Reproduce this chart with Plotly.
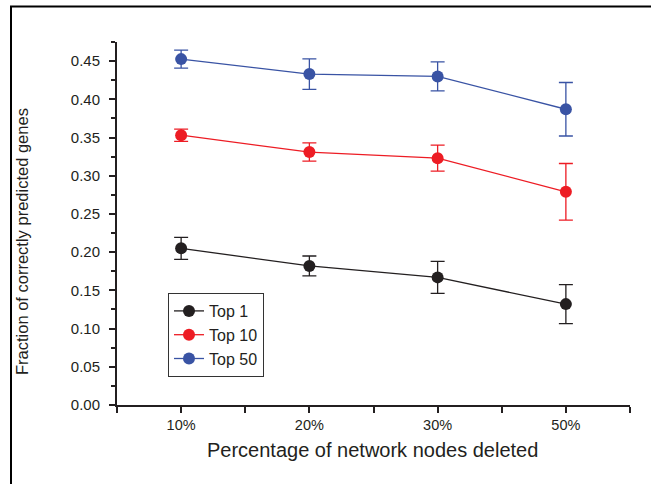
import plotly.graph_objects as go

categories = ["10%", "20%", "30%", "50%"]
top1 = [0.205, 0.182, 0.167, 0.132]
top1_err = [0.0144, 0.013, 0.021, 0.0255]
top10 = [0.353, 0.331, 0.323, 0.279]
top10_err = [0.008, 0.012, 0.017, 0.037]
top50 = [0.4526, 0.433, 0.430, 0.387]
top50_err = [0.0118, 0.020, 0.019, 0.035]

series = [
    ("Top 1", top1, top1_err, "#231f20"),
    ("Top 10", top10, top10_err, "#ed1c24"),
    ("Top 50", top50, top50_err, "#3953a4"),
]

xpos = list(range(len(categories)))
fig = go.Figure()
for name, vals, errs, col in series:
    fig.add_trace(go.Scatter(
        x=xpos, y=vals, name=name, mode="lines+markers",
        line=dict(color=col, width=1.3),
        marker=dict(color=col, size=12),
        error_y=dict(type="data", array=errs, visible=True, color=col, thickness=1.3, width=7),
    ))

W, H = 651, 484
L, R, T, B = 117, 21, 42, 79
pw, ph = W - L - R, H - T - B

def px(xp):
    return (xp - L) / pw

def py(yp):
    return (H - B - yp) / ph

# outer frame (left and top edges)
fig.add_shape(type="line", xref="paper", yref="paper",
              x0=px(11), x1=px(11), y0=py(490), y1=py(6),
              line=dict(color="black", width=2))
fig.add_shape(type="line", xref="paper", yref="paper",
              x0=px(10), x1=px(660), y0=py(6.5), y1=py(6.5),
              line=dict(color="black", width=2))

fig.add_annotation(text="Fraction of correctly predicted genes", xref="paper", yref="paper",
                   x=px(22), y=py(242), textangle=-90, showarrow=False,
                   xanchor="center", yanchor="middle", font=dict(size=16.5))
fig.add_annotation(text="Percentage of network nodes deleted", xref="paper", yref="paper",
                   x=px(372), y=py(450), showarrow=False,
                   xanchor="center", yanchor="middle", font=dict(size=20))

fig.update_layout(
    width=W, height=H,
    margin=dict(l=L, r=R, t=T, b=B, autoexpand=False),
    paper_bgcolor="white", plot_bgcolor="white",
    font=dict(family="Liberation Sans, Arial, sans-serif", color="#231f20"),
    showlegend=True,
    legend=dict(x=px(168), y=py(293), xanchor="left", yanchor="top",
                bordercolor="#333333", borderwidth=1, bgcolor="white",
                font=dict(size=16), tracegroupgap=0),
    xaxis=dict(
        range=[-0.5, 3.5], tickvals=xpos, ticktext=categories,
        showline=True, linecolor="#231f20", linewidth=2,
        ticks="outside", ticklen=6, tickwidth=2, tickcolor="#231f20",
        showgrid=False, zeroline=False, automargin=False,
        tickfont=dict(size=14.5),
        minor=dict(tickvals=[-0.5, 0.5, 1.5, 2.5, 3.5], ticks="outside", ticklen=6, tickwidth=2, tickcolor="#231f20", showgrid=False),
    ),
    yaxis=dict(
        range=[0, 0.475], dtick=0.05, tick0=0, tickformat=".2f",
        showline=True, linecolor="#231f20", linewidth=2,
        ticks="outside", ticklen=6, tickwidth=2, tickcolor="#231f20",
        showgrid=False, zeroline=False, automargin=False,
        tickfont=dict(size=15), ticklabelstandoff=6,
        minor=dict(dtick=0.025, ticks="outside", ticklen=4, tickwidth=2, tickcolor="#231f20", showgrid=False),
    ),
)

fig.write_html("out.html", config={"displayModeBar": False},
               post_script="document.body.style.margin='0';")
